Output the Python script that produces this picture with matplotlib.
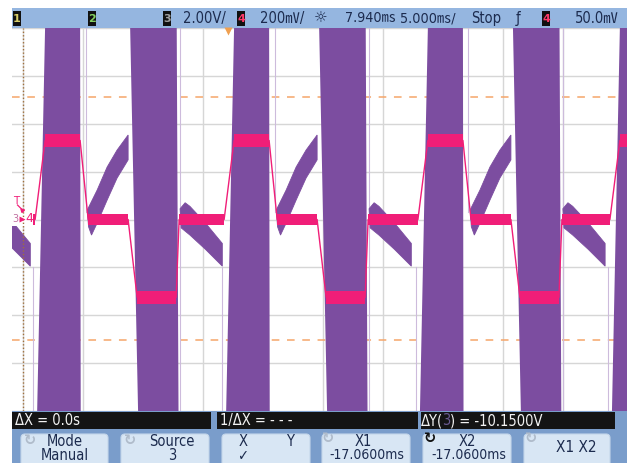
import numpy as np
import matplotlib
matplotlib.use("Agg")
import matplotlib.pyplot as plt
from matplotlib import font_manager
from matplotlib.patches import Rectangle, FancyBboxPatch

# ---------------- data ----------------
ms_per_div = 5.0
delay_ms = 7.94
ch3_v_per_div = 2.0
ch4_v_per_div = 0.2
trig_level_v = 0.050
x1_ms = -17.06
x2_ms = -17.06
y1_v = 5.11
y2_v = -5.04

# start of each mains cycle (ms, screen time)
cycle_start_ms = [-32.05, -16.05, -0.30, 15.85, 31.85]

# channel 4 (pink) shape within one cycle
ch4_shape_rel_ms = [0.0, 0.83, 3.75, 4.42, 7.75, 8.50, 11.75, 12.00]
ch4_shape_v = [0.0, 0.330, 0.330, 0.0, 0.0, -0.325, -0.325, 0.0]
ch4_flat_start_ms = [0.83, 4.42, 8.50, 12.00]
ch4_flat_end_ms = [3.75, 7.75, 11.75, np.nan]  # nan -> until next cycle
ch4_flat_v = [0.330, 0.0, -0.325, 0.0]
ch4_flat_noise_v = [0.026, 0.021, 0.027, 0.021]

# channel 3 (purple) switching bursts (saturate the screen)
ch3_burst_left_bottom_ms = [0.17, 8.58]
ch3_burst_left_top_ms = [0.83, 7.92]
ch3_burst_right_bottom_ms = [3.80, 11.95]
ch3_burst_right_top_ms = [3.75, 11.80]

# channel 3 slow segments between bursts (envelopes)
ch3_rise_upper_ms = [4.35, 5.17, 6.00, 6.83, 7.75]
ch3_rise_upper_v = [0.40, 1.23, 2.19, 2.90, 3.53]
ch3_rise_lower_ms = [4.45, 4.70, 5.17, 6.00, 6.83, 7.75]
ch3_rise_lower_v = [-0.30, -0.65, -0.15, 0.81, 1.73, 2.49]
ch3_fall_upper_ms = [12.08, 12.50, 12.90, 14.20, 15.60]
ch3_fall_upper_v = [0.45, 0.70, 0.55, -0.15, -1.00]
ch3_fall_lower_ms = [12.17, 12.90, 14.20, 15.60]
ch3_fall_lower_v = [-0.35, -0.65, -1.25, -1.95]

# thin fast edges of channel 3
ch3_edge_rel_ms = [-0.15, 4.20, 12.05]
ch3_edge_from_v = [-2.0, 8.0, -8.0]
ch3_edge_to_v = [-8.0, 0.3, 8.0]

# ---------------- fonts ----------------
names = {f.name for f in font_manager.fontManager.ttflist}
stretch = "normal"
if "Liberation Sans Narrow" in names:
    base = "Liberation Sans Narrow"
elif any(f.name == "DejaVu Sans" and f.stretch == "condensed" for f in font_manager.fontManager.ttflist):
    base = "DejaVu Sans"
    stretch = "condensed"
else:
    base = "Liberation Sans"
FAM = [base, "DejaVu Sans", "Noto Sans CJK JP"]

PURPLE = "#7c4da0"
PINK = "#f01e78"
NAVY = "#1c2b4e"

W, H = 627, 463
fig = plt.figure(figsize=(W / 100, H / 100), dpi=100)
fig.patch.set_facecolor("white")

# chrome axes (pixel coordinates)
bg = fig.add_axes([0, 0, 1, 1])
bg.set_xlim(0, W)
bg.set_ylim(H, 0)
bg.axis("off")


def txt(x, y, s, size=10.5, color=NAVY, ha="left", va="center", where=None, **kw):
    (where or bg).text(x, y, s, fontsize=size, color=color, ha=ha, va=va,
                       family=FAM, stretch=stretch, **kw)


# top status bar
bg.add_patch(Rectangle((12, 8), W - 12, 20, color="#95b6e0", lw=0))
for bx, lab, col in [(13, "1", "#d8cf6a"), (88, "2", "#84d060"), (163, "3", "#a0a0a0"),
                     (237, "4", "#ff3a6a"), (542, "4", "#ff3a6a")]:
    bg.add_patch(Rectangle((bx, 10.5), 8, 15, color="#111111", lw=0))
    bg.text(bx + 4, 18.5, lab, fontsize=8, color=col, ha="center", va="center",
            family=FAM, weight="bold")
txt(183, 18.5, f"{ch3_v_per_div:.2f}V/")
txt(260, 18.5, f"{ch4_v_per_div * 1000:.0f}\u33b7/")
bg.text(321, 18.5, "\u263c", fontsize=11, color=NAVY, ha="center", va="center", family="DejaVu Sans")
txt(345, 18.5, f"{delay_ms:.3f}\u33b3", size=10.3)
txt(400, 18.5, f"{ms_per_div:.3f}\u33b3/", size=10.3)
txt(471, 18.5, "Stop")
txt(518, 18.5, "\u0192", ha="center")
txt(575, 18.5, f"{trig_level_v * 1000:.1f}\u33b7")

# bottom area
bg.add_patch(Rectangle((12, 411), W - 12, H - 411, color="#7a9dcb", lw=0))
for x0, x1 in [(12, 211), (217, 418), (421, 615)]:
    bg.add_patch(Rectangle((x0, 412), x1 - x0, 17, color="#141414", lw=0))
txt(15, 420.5, f"\u0394X = {x2_ms - x1_ms:.1f}s", size=10.5, color="#f2f2f2")
txt(220, 420.5, "1/\u0394X = - - -", size=10.5, color="#f2f2f2")
txt(443, 420.5, "\u0394Y(", size=10.5, color="#f2f2f2", ha="right")
txt(446.5, 420.5, "3", size=10.5, color="#6a5a90", ha="center")
txt(450, 420.5, f") = {y2_v - y1_v:.4f}V", size=10.5, color="#f2f2f2")

keys = [(19, 110), (119, 211), (220, 312), (320, 412), (421, 513), (522, 612)]
for x0, x1 in keys:
    bg.add_patch(FancyBboxPatch((x0 + 2, 434), x1 - x0 - 4, 40,
                                boxstyle="round,pad=0,rounding_size=4",
                                fc="#d8e6f4", ec="#c4d6ea", lw=0.8))
ICON = "\u21bb"
for ix, iy, col in [(30, 440, "#b0bccb"), (130, 440, "#b0bccb"), (328, 439, "#b0bccb"),
                    (430, 439, "#111111"), (531, 438, "#b0bccb")]:
    bg.text(ix, iy, ICON, fontsize=10.5, color=col, ha="center", va="center",
            family="DejaVu Sans", weight="bold")
txt(65, 441, "Mode", ha="center")
txt(65, 455, "Manual", ha="center")
txt(172, 441, "Source", ha="center")
txt(172, 455, "3", ha="center")
txt(243, 441, "X", ha="center")
txt(290, 441, "Y", ha="center")
txt(243, 456, "\u2713", ha="center")
txt(363, 441, "X1", ha="center")
txt(367, 455, f"{x1_ms:.4f}ms", ha="center", size=10)
txt(467, 441, "X2", ha="center")
txt(469, 455, f"{x2_ms:.4f}ms", ha="center", size=10)
txt(576, 448, "X1 X2", ha="center", size=11)

# ---------------- scope screen ----------------
px_per_ms = 600 / (10 * ms_per_div)
left_ms = delay_ms - 5 * ms_per_div
ax = fig.add_axes([12 / W, (H - 411) / H, (W - 12) / W, 383 / H])
ax.set_facecolor("none")
ax.set_xlim(left_ms - 11 / px_per_ms, left_ms + 604 / px_per_ms)
ax.set_ylim(-4, 4)
ax.set_xticks(left_ms + ms_per_div * np.arange(11))
ax.set_yticks(np.arange(-4, 5))
ax.grid(True, color="#d6d6d6", lw=1)
ax.set_axisbelow(True)
ax.tick_params(length=0, labelbottom=False, labelleft=False)
for sp in ax.spines.values():
    sp.set_visible(False)

# cursors
for yv in (y1_v, y2_v):
    ax.axhline(yv / ch3_v_per_div, color="#f5a66a", lw=1.1, dashes=(5, 5), zorder=1)
ax.axvline(x1_ms, color="#a0703c", lw=1.0, ls=(0, (1, 1.5)), zorder=5)

ch3 = lambda v: np.asarray(v) / ch3_v_per_div
ch4 = lambda v: np.asarray(v) / ch4_v_per_div

for i, s in enumerate(cycle_start_ms):
    for lb, lt, rb, rt in zip(ch3_burst_left_bottom_ms, ch3_burst_left_top_ms,
                              ch3_burst_right_bottom_ms, ch3_burst_right_top_ms):
        ax.fill([s + lb, s + lt, s + rt, s + rb], [-4, 4, 4, -4], color=PURPLE, lw=0, zorder=2)
    ax.fill(np.r_[s + np.array(ch3_rise_upper_ms), s + np.array(ch3_rise_lower_ms)[::-1]],
            np.r_[ch3(ch3_rise_upper_v), ch3(ch3_rise_lower_v)[::-1]],
            color=PURPLE, lw=0.6, ec=PURPLE, zorder=2)
    ax.fill(np.r_[s + np.array(ch3_fall_upper_ms), s + np.array(ch3_fall_lower_ms)[::-1]],
            np.r_[ch3(ch3_fall_upper_v), ch3(ch3_fall_lower_v)[::-1]],
            color=PURPLE, lw=0.6, ec=PURPLE, zorder=2)
    for r, a, b in zip(ch3_edge_rel_ms, ch3_edge_from_v, ch3_edge_to_v):
        ax.plot([s + r, s + r], ch3([a, b]), color="#cdbbdc", lw=0.8, zorder=1.8)

# channel 4 trace
t_all, v_all = [], []
for s in cycle_start_ms:
    t_all += list(s + np.array(ch4_shape_rel_ms))
    v_all += ch4_shape_v
ax.plot(t_all, ch4(v_all), color=PINK, lw=1.0, zorder=3)
for i, s in enumerate(cycle_start_ms):
    nxt = cycle_start_ms[i + 1] if i + 1 < len(cycle_start_ms) else s + 16.0
    for a, b, v, n in zip(ch4_flat_start_ms, ch4_flat_end_ms, ch4_flat_v, ch4_flat_noise_v):
        e = nxt if np.isnan(b) else s + b
        ax.fill_between([s + a, e], ch4(v - n), ch4(v + n), color=PINK, lw=0, zorder=4)

# trigger position marker
ax.plot([0], [3.93], marker="v", color="#f0a050", ms=6, mec="none", clip_on=False, zorder=6)

# white backing behind the left-edge channel labels (pixel coords)
ax.add_patch(Rectangle((12, 212), 21, 14, transform=bg.transData, color="white", lw=0, zorder=4.5))

# overlay: channel ground / trigger markers at the left edge
ov = fig.add_axes([0, 0, 1, 1])
ov.set_xlim(0, W)
ov.set_ylim(H, 0)
ov.axis("off")
ov.text(16.5, 201, "T", fontsize=7.5, color=PINK, ha="center", va="center", family="DejaVu Sans")
ov.plot([17.5, 22], [205, 209.5], color=PINK, lw=0.9)
ov.plot([22], [209.5], marker=(3, 0, 45), color=PINK, ms=3)
ov.text(15, 219, "3", fontsize=7, color="#c070a0", ha="center", va="center", family="DejaVu Sans")
ov.plot([21.5], [219], marker=">", color=PINK, ms=4, mec="none")
ov.text(29, 219, "4", fontsize=9, color=PINK, ha="center", va="center", family="DejaVu Sans")

fig.savefig("out.png", dpi=100)
